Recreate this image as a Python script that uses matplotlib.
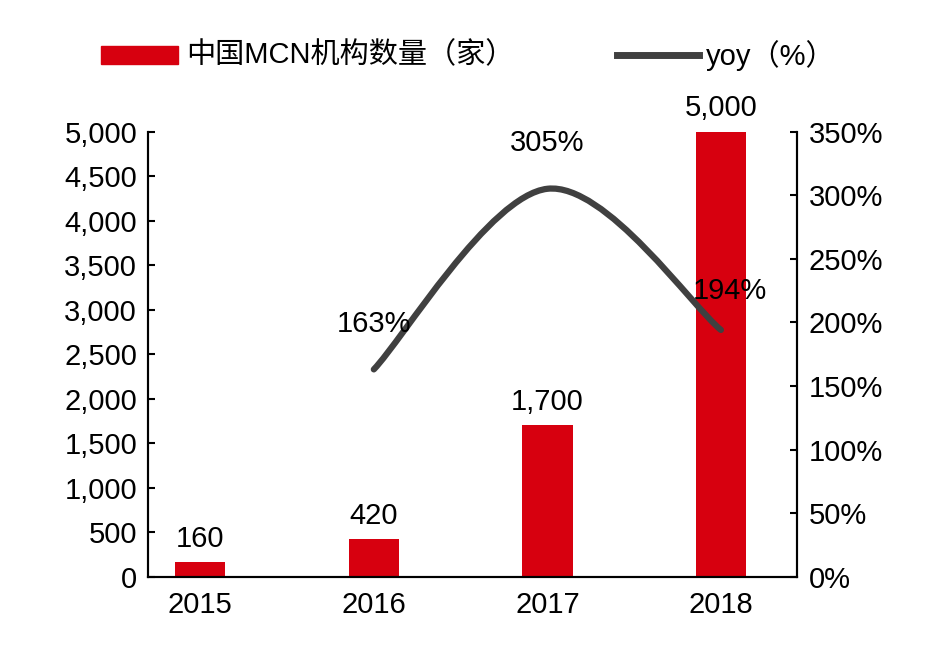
import matplotlib
matplotlib.use('Agg')
import matplotlib.pyplot as plt
from matplotlib.path import Path
from matplotlib.patches import PathPatch

plt.rcParams['font.family'] = ['Liberation Sans', 'Noto Sans CJK SC', 'DejaVu Sans']

years = ['2015', '2016', '2017', '2018']
mcn_count = [160, 420, 1700, 5000]
yoy_idx = [1, 2, 3]
yoy = [163, 305, 194]

red = '#d7000f'
gray = '#404040'
fs = 21

fig = plt.figure(figsize=(9.38, 6.48), dpi=100)
ax = fig.add_axes([0.158, 0.110, 0.692, 0.687])
ax2 = ax.twinx()

x = list(range(len(years)))
ax.bar(x, mcn_count, width=0.29, color=red, zorder=2)
for xi, v in zip(x, mcn_count):
    ax.text(xi, v + 110, f'{v:,}', ha='center', va='bottom', fontsize=fs)

ax.set_xlim(-0.3, 3.44)
ax.set_ylim(0, 5000)
ax.set_yticks(range(0, 5001, 500))
ax.set_yticklabels([f'{v:,}' for v in range(0, 5001, 500)])
ax.set_xticks(x)
ax.set_xticklabels(years)

ax2.set_ylim(0, 350)
ax2.set_yticks(range(0, 351, 50))
ax2.set_yticklabels([f'{v}%' for v in range(0, 351, 50)])

# smooth curve through yoy points (Catmull-Rom -> cubic Bezier)
pts = list(zip(yoy_idx, yoy))
verts = [pts[0]]
codes = [Path.MOVETO]
for i in range(len(pts) - 1):
    p0 = pts[i - 1] if i > 0 else pts[i]
    p1, p2 = pts[i], pts[i + 1]
    p3 = pts[i + 2] if i + 2 < len(pts) else pts[i + 1]
    c1 = (p1[0] + (p2[0] - p0[0]) / 6, p1[1] + (p2[1] - p0[1]) / 6)
    c2 = (p2[0] - (p3[0] - p1[0]) / 6, p2[1] - (p3[1] - p1[1]) / 6)
    verts += [c1, c2, p2]
    codes += [Path.CURVE4] * 3
ax2.add_patch(PathPatch(Path(verts, codes), fill=False, edgecolor=gray, lw=4.5,
                        capstyle='round', zorder=3))
label_off = [(0, 25), (0, 25), (0.05, 20)]
for (xi, v), (dx, dy) in zip(pts, label_off):
    ax2.text(xi + dx, v + dy, f'{v}%', ha='center', va='bottom', fontsize=fs)

for a in (ax, ax2):
    a.spines['top'].set_visible(False)
    for s in a.spines.values():
        s.set_linewidth(1.5)
    a.tick_params(axis='both', direction='in', labelsize=fs, width=1.5, length=5, pad=8)
ax.tick_params(axis='x', length=0, pad=10)

# legend
fig.patches.append(plt.Rectangle((0.108, 0.902), 0.082, 0.027, transform=fig.transFigure,
                                 color=red))
fig.text(0.198, 0.915, '中国MCN机构数量（家）', fontsize=fs, va='center')
fig.lines.append(plt.Line2D([0.658, 0.745], [0.915, 0.915], transform=fig.transFigure,
                            color=gray, lw=5))
fig.text(0.752, 0.915, 'yoy（%）', fontsize=fs, va='center')

fig.savefig('out.png', dpi=100)
